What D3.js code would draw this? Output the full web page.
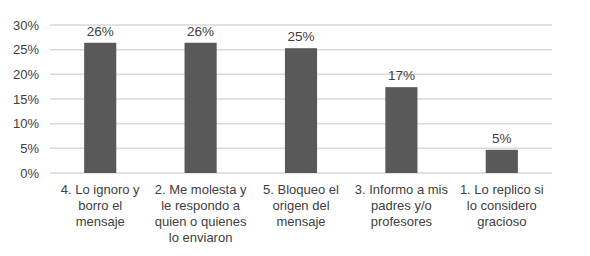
<!DOCTYPE html>
<html>
<head>
    <script src="https://cdn.jsdelivr.net/npm/d3@7"></script>
</head>

<style>
    body { margin: 0; background: #fff; }
    text { font-family: "Liberation Sans", Arial, sans-serif; fill: #404040; }
</style>

<body>
<div id="chart"></div>

<script>

    var categories = [
        ['4. Lo ignoro y', 'borro el', 'mensaje'],
        ['2. Me molesta y', 'le respondo a', 'quien o quienes', 'lo enviaron'],
        ['5. Bloqueo el', 'origen del', 'mensaje'],
        ['3. Informo a mis', 'padres y/o', 'profesores'],
        ['1. Lo replico si', 'lo considero', 'gracioso']
    ];
    var values = [26.4, 26.4, 25.3, 17.4, 4.7];
    var valueLabels = ['26%', '26%', '25%', '17%', '5%'];
    var ticks = [0, 5, 10, 15, 20, 25, 30];

    var width = 590;
    var height = 256;
    var padding = { left: 50, right: 38, top: 25, bottom: 83 };

    var svg = d3.select('#chart').append('svg')
        .attr('width', width)
        .attr('height', height);

    var x = d3.scaleBand()
        .domain(d3.range(categories.length))
        .range([padding.left, width - padding.right])
        .paddingInner(0.68)
        .paddingOuter(0.34);

    var y = d3.scaleLinear()
        .domain([0, 30])
        .range([height - padding.bottom, padding.top]);

    // gridlines
    svg.append('g')
        .selectAll('line')
        .data(ticks)
        .enter()
        .append('line')
        .attr('x1', padding.left)
        .attr('x2', width - padding.right)
        .attr('y1', function(d) { return y(d); })
        .attr('y2', function(d) { return y(d); })
        .attr('stroke', '#d9d9d9')
        .attr('stroke-width', 1.5);

    // y axis labels
    var yAxis = d3.axisLeft(y)
        .tickValues(ticks)
        .tickSize(0)
        .tickPadding(11)
        .tickFormat(function(d) { return d + '%'; });

    var ya = svg.append('g')
        .attr('transform', 'translate(' + padding.left + ',0)')
        .call(yAxis);
    ya.select('.domain').remove();
    ya.selectAll('text')
        .style('font-size', '13px')
        .style('font-family', '"Liberation Sans", Arial, sans-serif')
        .attr('fill', '#404040');

    // bars
    svg.append('g')
        .selectAll('rect')
        .data(values)
        .enter()
        .append('rect')
        .attr('x', function(d, i) { return x(i); })
        .attr('y', function(d) { return y(d); })
        .attr('width', x.bandwidth())
        .attr('height', function(d) { return y(0) - y(d); })
        .attr('fill', '#595959');

    // value labels
    svg.append('g')
        .selectAll('text')
        .data(values)
        .enter()
        .append('text')
        .attr('x', function(d, i) { return x(i) + x.bandwidth() / 2; })
        .attr('y', function(d) { return y(d) - 7; })
        .attr('text-anchor', 'middle')
        .style('font-size', '13.5px')
        .text(function(d, i) { return valueLabels[i]; });

    // category labels
    var cat = svg.append('g')
        .selectAll('text')
        .data(categories)
        .enter()
        .append('text')
        .attr('text-anchor', 'middle')
        .style('font-size', '13px')
        .attr('transform', function(d, i) {
            return 'translate(' + (x(i) + x.bandwidth() / 2) + ',' + (y(0) + 21) + ')';
        });

    cat.selectAll('tspan')
        .data(function(d) { return d; })
        .enter()
        .append('tspan')
        .attr('x', 0)
        .attr('y', function(d, j) { return j * 16; })
        .text(function(d) { return d; });

</script>
</body>
</html>
